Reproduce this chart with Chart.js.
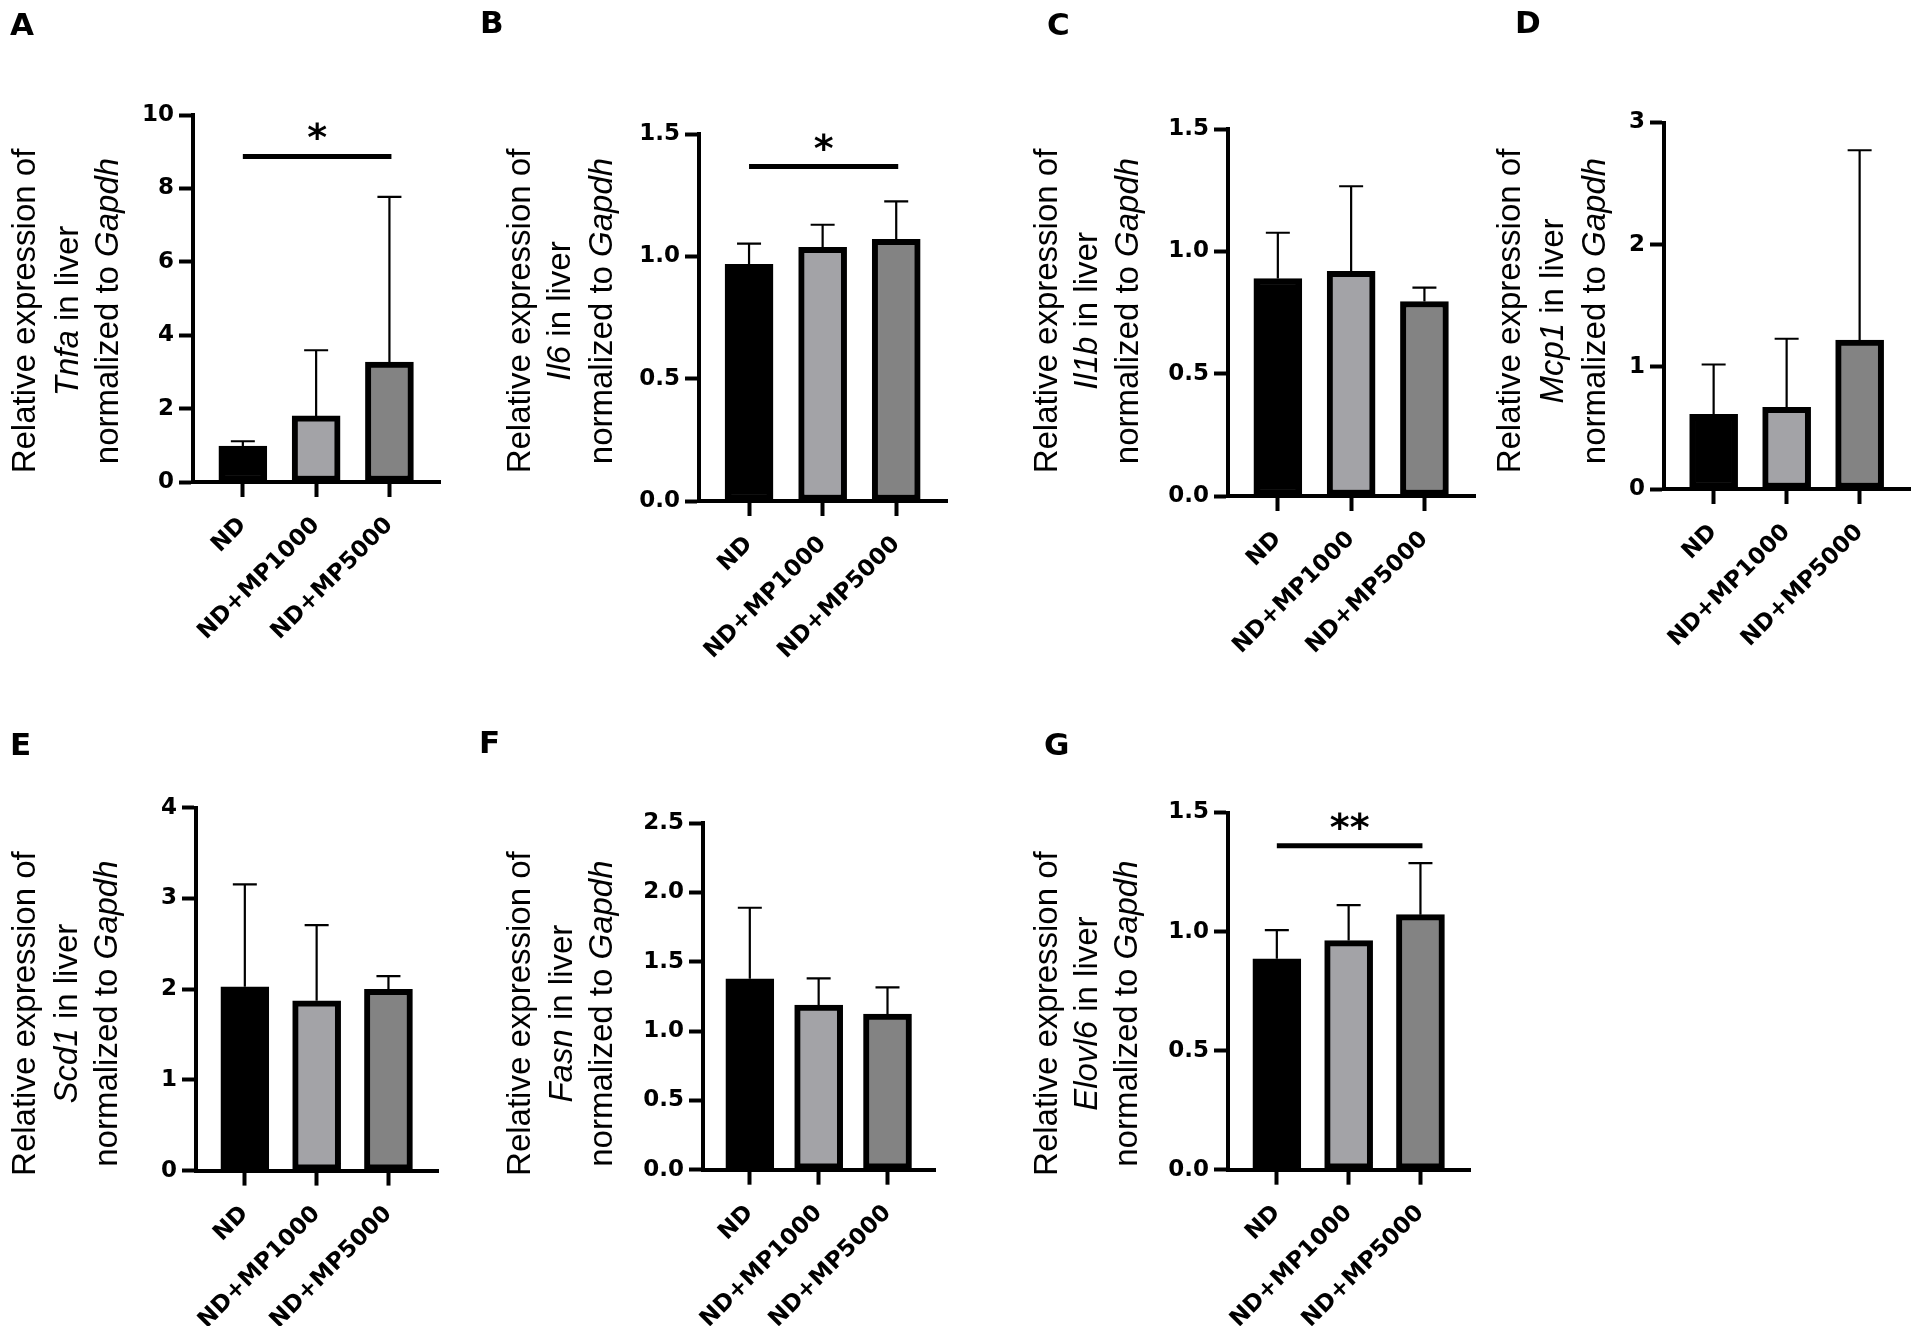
<!DOCTYPE html>
<html>
<head>
<meta charset="utf-8">
<title>Liver gene expression</title>
<script src="https://cdn.jsdelivr.net/npm/chart.js@4.4.1/dist/chart.umd.min.js"></script>
<style>
  html, body { margin: 0; padding: 0; background: #fff; }
  body { width: 1918px; height: 1326px; position: relative; overflow: hidden; }
  .panel { position: absolute; }
</style>
</head>
<body>
<div class="panel" style="left:0px;top:0px;width:475px;height:680px"><canvas id="cA"></canvas></div>
<div class="panel" style="left:475px;top:0px;width:480px;height:680px"><canvas id="cB"></canvas></div>
<div class="panel" style="left:955px;top:0px;width:530px;height:680px"><canvas id="cC"></canvas></div>
<div class="panel" style="left:1485px;top:0px;width:433px;height:680px"><canvas id="cD"></canvas></div>
<div class="panel" style="left:0px;top:680px;width:475px;height:646px"><canvas id="cE"></canvas></div>
<div class="panel" style="left:475px;top:680px;width:480px;height:646px"><canvas id="cF"></canvas></div>
<div class="panel" style="left:955px;top:680px;width:530px;height:646px"><canvas id="cG"></canvas></div>

<script>
// groups on the x axis
const groups = ["ND", "ND+MP1000", "ND+MP5000"];
const barColors = ["#000000", "#a3a3a7", "#838383"];

// mean and SD (upper error bar) for each gene
const tnfaMean = [0.98, 1.80, 3.27];
const tnfaSd = [0.13, 1.79, 4.50];
const il6Mean = [0.967, 1.037, 1.070];
const il6Sd = [0.085, 0.092, 0.155];
const il1bMean = [0.889, 0.918, 0.795];
const il1bSd = [0.187, 0.348, 0.057];
const mcp1Mean = [0.611, 0.668, 1.22];
const mcp1Sd = [0.408, 0.562, 1.553];
const scd1Mean = [2.025, 1.872, 1.998];
const scd1Sd = [1.129, 0.832, 0.144];
const fasnMean = [1.378, 1.187, 1.122];
const fasnSd = [0.512, 0.194, 0.194];
const elovl6Mean = [0.886, 0.962, 1.071];
const elovl6Sd = [0.120, 0.149, 0.216];

// y tick labels
const ticksTnfa = [0, 2, 4, 6, 8, 10];
const ticksIl6 = [0, 0.5, 1.0, 1.5];
const ticksIl1b = [0, 0.5, 1.0, 1.5];
const ticksMcp1 = [0, 1, 2, 3];
const ticksScd1 = [0, 1, 2, 3, 4];
const ticksFasn = [0, 0.5, 1.0, 1.5, 2.0, 2.5];
const ticksElovl6 = [0, 0.5, 1.0, 1.5];

// significance brackets: from group, to group, height, label
const sigTnfa = [0, 2, 8.87, "*"];
const sigIl6 = [0, 2, 1.367, "*"];
const sigElovl6 = [0, 2, 1.36, "**"];

const TITLE_FONT = '"Liberation Sans", Arial, sans-serif';
const TICK_FONT = "DejaVu Sans";

// layout of each panel in page pixels
const panels = [
  { id: "cA", letter: "A", gene: "Tnfa", mean: tnfaMean, sd: tnfaSd, yt: ticksTnfa, dec: 0, sig: sigTnfa,
    box: [0, 0], area: [193, 115, 440, 482], titleX: [35, 78, 118], titleY: 311, letterPos: [10, 35] },
  { id: "cB", letter: "B", gene: "Il6", mean: il6Mean, sd: il6Sd, yt: ticksIl6, dec: 1, sig: sigIl6,
    box: [475, 0], area: [699, 134, 947, 501], titleX: [530, 570, 612], titleY: 311, letterPos: [480, 33] },
  { id: "cC", letter: "C", gene: "Il1b", mean: il1bMean, sd: il1bSd, yt: ticksIl1b, dec: 1, sig: null,
    box: [955, 0], area: [1228, 129, 1475, 496], titleX: [1057, 1097, 1138], titleY: 311, letterPos: [1047, 35] },
  { id: "cD", letter: "D", gene: "Mcp1", mean: mcp1Mean, sd: mcp1Sd, yt: ticksMcp1, dec: 0, sig: null,
    box: [1485, 0], area: [1664, 122.5, 1910, 489], titleX: [1520, 1563, 1605], titleY: 311, letterPos: [1515, 33] },
  { id: "cE", letter: "E", gene: "Scd1", mean: scd1Mean, sd: scd1Sd, yt: ticksScd1, dec: 0, sig: null,
    box: [0, 680], area: [196, 807.6, 438, 1170.6], titleX: [35, 77, 117], titleY: 1013.6, letterPos: [10, 755] },
  { id: "cF", letter: "F", gene: "Fasn", mean: fasnMean, sd: fasnSd, yt: ticksFasn, dec: 1, sig: null,
    box: [475, 680], area: [703, 823.2, 935, 1169.7], titleX: [530, 572, 612], titleY: 1013.6, letterPos: [479, 753] },
  { id: "cG", letter: "G", gene: "Elovl6", mean: elovl6Mean, sd: elovl6Sd, yt: ticksElovl6, dec: 1, sig: sigElovl6,
    box: [955, 680], area: [1228, 812.5, 1470, 1169.7], titleX: [1057, 1097, 1137], titleY: 1013.6, letterPos: [1044, 755] },
];

function drawTitleLine(ctx, segs, x, y) {
  // segs: [text, italic]
  let total = 0;
  const widths = segs.map(([t, it]) => {
    ctx.font = (it ? "italic " : "") + "33px " + TITLE_FONT;
    const w = ctx.measureText(t).width;
    total += w;
    return w;
  });
  ctx.save();
  ctx.translate(x, y);
  ctx.rotate(-Math.PI / 2);
  ctx.textBaseline = "alphabetic";
  ctx.textAlign = "left";
  let pos = -total / 2;
  segs.forEach(([t, it], i) => {
    ctx.font = (it ? "italic " : "") + "33px " + TITLE_FONT;
    ctx.fillText(t, pos, 0);
    pos += widths[i];
  });
  ctx.restore();
}

function decor(p) {
  return {
    id: "decor" + p.letter,
    afterDatasetsDraw(chart) {
      const ctx = chart.ctx;
      const xs = chart.scales.x;
      const ys = chart.scales.y;
      const meta = chart.getDatasetMeta(0);
      ctx.save();
      ctx.strokeStyle = "#000";
      ctx.fillStyle = "#000";

      // upper error bars
      ctx.lineWidth = 2.2;
      meta.data.forEach((bar, i) => {
        const top = ys.getPixelForValue(p.mean[i] + p.sd[i]);
        ctx.beginPath();
        ctx.moveTo(bar.x, bar.y);
        ctx.lineTo(bar.x, top);
        ctx.moveTo(bar.x - 12, top);
        ctx.lineTo(bar.x + 12, top);
        ctx.stroke();
      });

      // significance bracket
      if (p.sig) {
        const [a, b, h, label] = p.sig;
        const x1 = xs.getPixelForValue(a);
        const x2 = xs.getPixelForValue(b) + 2;
        const yy = ys.getPixelForValue(h);
        ctx.lineWidth = 5;
        ctx.beginPath();
        ctx.moveTo(x1, yy);
        ctx.lineTo(x2, yy);
        ctx.stroke();
        ctx.font = "bold 38px " + TICK_FONT;
        ctx.textAlign = "center";
        ctx.textBaseline = "alphabetic";
        ctx.fillText(label, (x1 + x2) / 2, yy - 6);
      }
      ctx.restore();
    },
    afterDraw(chart) {
      const ctx = chart.ctx;
      ctx.save();
      ctx.fillStyle = "#000";
      const ty = p.titleY - p.box[1];
      drawTitleLine(ctx, [["Relative expression of", false]], p.titleX[0] - p.box[0], ty);
      drawTitleLine(ctx, [[p.gene, true], [" in liver", false]], p.titleX[1] - p.box[0], ty);
      drawTitleLine(ctx, [["normalized to ", false], ["Gapdh", true]], p.titleX[2] - p.box[0], ty);

      ctx.font = "bold 31px " + TICK_FONT;
      ctx.textAlign = "left";
      ctx.textBaseline = "alphabetic";
      ctx.fillText(p.letter, p.letterPos[0] - p.box[0], p.letterPos[1] - p.box[1]);
      ctx.restore();
    },
  };
}

function fitArea(chart, want) {
  for (let k = 0; k < 3; k++) {
    const a = chart.chartArea;
    const pad = chart.options.layout.padding;
    pad.left += want.left - a.left;
    pad.top += want.top - a.top;
    pad.right += a.right - want.right;
    pad.bottom += a.bottom - want.bottom;
    chart.update("none");
  }
}

panels.forEach((p) => {
  const canvas = document.getElementById(p.id);
  const holder = canvas.parentElement;
  const W = holder.clientWidth;
  const H = holder.clientHeight;
  const want = {
    left: p.area[0] - p.box[0],
    top: p.area[1] - p.box[1],
    right: p.area[2] - p.box[0],
    bottom: p.area[3] - p.box[1],
  };

  const chart = new Chart(canvas, {
    type: "bar",
    data: {
      datasets: [{
        data: p.mean.map((v, i) => ({ x: i, y: v })),
        backgroundColor: barColors,
        borderColor: "#000",
        borderWidth: 6,
        borderSkipped: false,
        barThickness: 48,
      }],
    },
    options: {
      responsive: true,
      maintainAspectRatio: false,
      animation: false,
      events: [],
      layout: {
        padding: {
          left: want.left - 60,
          top: want.top,
          right: W - want.right,
          bottom: H - want.bottom - 140,
        },
      },
      plugins: {
        legend: { display: false },
        tooltip: { enabled: false },
      },
      scales: {
        x: {
          type: "linear",
          min: -0.68,
          max: 2.69,
          offset: false,
          afterBuildTicks: (s) => { s.ticks = groups.map((g, i) => ({ value: i })); },
          ticks: {
            autoSkip: false,
            minRotation: 45,
            maxRotation: 45,
            padding: 15,
            color: "#000",
            font: { family: TICK_FONT, weight: "bold", size: 23 },
            callback: (v) => groups[v],
          },
          grid: { offset: false, drawOnChartArea: false, tickLength: 15, tickWidth: 4, color: "#000" },
          border: { display: true, width: 4, color: "#000" },
        },
        y: {
          min: 0,
          max: p.yt[p.yt.length - 1],
          afterBuildTicks: (s) => { s.ticks = p.yt.map((v) => ({ value: v })); },
          ticks: {
            padding: 5,
            color: "#000",
            font: { family: TICK_FONT, weight: "bold", size: 23 },
            callback: (v) => Number(v).toFixed(p.dec),
          },
          grid: { drawOnChartArea: false, tickLength: 14, tickWidth: 4, color: "#000" },
          border: { display: true, width: 4, color: "#000" },
        },
      },
    },
    plugins: [decor(p)],
  });
  fitArea(chart, want);
});
</script>
</body>
</html>
